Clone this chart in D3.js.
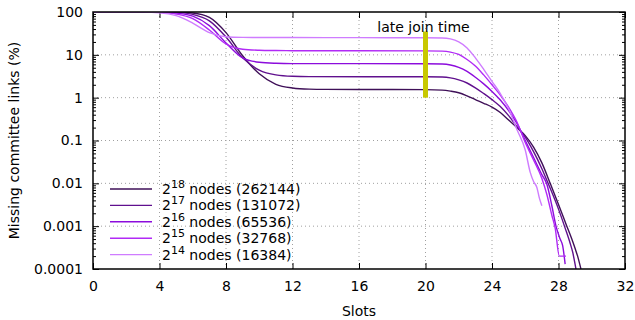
<!DOCTYPE html>
<html>
<head>
<meta charset="utf-8">
<script src="https://cdn.jsdelivr.net/npm/d3@7"></script>
<style>
  body { margin: 0; background: #fff; }
  text { font-family: "DejaVu Sans", sans-serif; }
</style>
</head>
<body>
<div id="chart"></div>
<script>
// series labels (exponent, node count) in legend order
var seriesExp = [18, 17, 16, 15, 14]
var seriesNodes = ["262144", "131072", "65536", "32768", "16384"]
var seriesColors = ["#3f1058", "#60108e", "#8c0cdc", "#b12af6", "#cf7cff"]

// [slot, missing committee links %]
var n18 = [[0,100],[4,100],[5,99.5],[6,95],[7,75],[8,33],[9,9.5],[10,3.6],[11,2.05],[12,1.68],[13,1.58],[14,1.56],[17,1.55],[20,1.54],
  [21,1.5],[21.5,1.42],[22,1.3],[22.5,1.1],[23,0.9],[23.5,0.74],[24,0.6],[24.5,0.45],[25,0.3],[25.5,0.2],[26,0.13],[26.5,0.07],
  [27,0.03],[27.5,0.01],[28,0.0032],[28.5,0.001],[28.8,0.0005],[29,0.0003],[29.15,0.0002],[29.35,0.0001]]
var n17 = [[0,100],[4,100],[4.5,99.5],[5,98],[6,88],[7,62],[8,26],[9,8.5],[10,4.4],[11,3.4],[12,3.15],[13,3.1],[20,3.07],
  [21,3.03],[21.5,2.9],[22,2.6],[22.5,2.2],[23,1.7],[23.5,1.25],[24,0.9],[24.5,0.62],[25,0.38],[25.5,0.21],[26,0.12],[26.5,0.055],
  [27,0.022],[27.4,0.0095],[28,0.0025],[28.4,0.0009],[28.7,0.0004],[28.85,0.00025],[29.05,0.0001]]
var n16 = [[0,100],[3.5,100],[4,99],[5,94],[6,80],[7,48],[8,19],[9,8.5],[10,6.7],[11,6.35],[12,6.25],[20,6.2],
  [21,6.1],[21.5,5.8],[22,5.1],[22.5,4.1],[23,3],[23.5,2.1],[24,1.4],[24.5,0.88],[25,0.5],[25.5,0.25],[26,0.1],[26.5,0.04],
  [27,0.016],[27.3,0.0095],[27.6,0.003],[27.85,0.001],[28.1,0.0005],[28.25,0.00035],[28.4,0.00013]]
var n15 = [[0,100],[3,99.8],[4,98],[5,90],[6,70],[7,38],[8,18],[9,13.5],[10,12.8],[11,12.6],[12,12.5],[20,12.4],
  [21,12.2],[21.5,11.6],[22,10.2],[22.5,7.8],[23,5.5],[23.5,3.4],[24,2],[24.5,1.15],[25,0.6],[25.5,0.27],[26,0.09],[26.5,0.035],
  [27,0.013],[27.3,0.0055],[27.6,0.0018],[27.8,0.0009],[28.05,0.0002],[28.45,0.0002]]
var n14 = [[0,100],[2,100],[3,99.5],[4,96],[5,82],[6,55],[7,33],[8,26.5],[9,25.6],[10,25.4],[12,25.3],[16,25.2],[20,25],
  [21,24.7],[21.5,23.5],[22,20],[22.5,14.5],[23,8.5],[23.5,4.6],[24,2.4],[24.5,1.25],[25,0.55],[25.5,0.18],[26,0.06],
  [26.3,0.018],[26.5,0.011],[26.7,0.008],[26.85,0.0045],[27,0.003]]
var seriesData = [n18, n17, n16, n15, n14]

// late join marker
var lateJoinSlot = 20
var lateJoinRange = [1, 35]

// axes
var xTicks = [0, 4, 8, 12, 16, 20, 24, 28, 32]
var yTicks = [0.0001, 0.001, 0.01, 0.1, 1, 10, 100]
var yTickLabels = ["0.0001", "0.001", "0.01", "0.1", "1", "10", "100"]

var margin = {top: 12, right: 10, bottom: 51, left: 93},
    width = 635 - margin.left - margin.right,
    height = 320 - margin.top - margin.bottom

var svg = d3.select("#chart")
    .append("svg")
    .attr("width", 635)
    .attr("height", 320)
    .append("g")
    .attr("transform", "translate(" + margin.left + "," + margin.top + ")")

var x = d3.scaleLinear().domain([0, 32]).range([0, width])
var y = d3.scaleLog().domain([0.0001, 100]).range([height, 0])

// dotted grid
svg.append("g").selectAll("line")
    .data(xTicks.slice(1, -1))
    .enter().append("line")
    .attr("x1", d => x(d)).attr("x2", d => x(d))
    .attr("y1", 0).attr("y2", height)
    .attr("stroke", "#a0a0a0").attr("stroke-dasharray", "1,3")
svg.append("g").selectAll("line")
    .data(yTicks.slice(1, -1))
    .enter().append("line")
    .attr("x1", 0).attr("x2", width)
    .attr("y1", d => y(d)).attr("y2", d => y(d))
    .attr("stroke", "#a0a0a0").attr("stroke-dasharray", "1,3")

// minor log ticks
var minor = []
yTicks.slice(0, -1).forEach(function (d) {
    for (var k = 2; k < 10; k++) minor.push(d * k)
})

function styleAxis(g) {
    g.select(".domain").remove()
    g.selectAll("line").attr("stroke", "#000")
    g.selectAll("text").attr("font-size", 14).attr("fill", "#000").attr("font-family", "DejaVu Sans, sans-serif")
}

svg.append("g")
    .attr("transform", "translate(0," + height + ")")
    .call(d3.axisBottom(x).tickValues(xTicks).tickSize(-6).tickPadding(12))
    .call(styleAxis)
svg.append("g")
    .call(d3.axisTop(x).tickValues(xTicks).tickSize(-6).tickFormat(""))
    .call(styleAxis)
svg.append("g")
    .call(d3.axisLeft(y).tickValues(yTicks).tickFormat((d, i) => yTickLabels[i]).tickSize(-6).tickPadding(10))
    .call(styleAxis)
svg.append("g")
    .attr("transform", "translate(" + width + ",0)")
    .call(d3.axisRight(y).tickValues(yTicks).tickSize(-6).tickFormat(""))
    .call(styleAxis)
svg.append("g")
    .call(d3.axisLeft(y).tickValues(minor).tickSize(-3).tickFormat(""))
    .call(styleAxis)
svg.append("g")
    .attr("transform", "translate(" + width + ",0)")
    .call(d3.axisRight(y).tickValues(minor).tickSize(-3).tickFormat(""))
    .call(styleAxis)

// clip for the curves
svg.append("clipPath").attr("id", "plotclip")
    .append("rect").attr("width", width).attr("height", height)

var line = d3.line()
    .x(d => x(d[0]))
    .y(d => y(d[1]))
    .curve(d3.curveMonotoneX)

svg.append("g").attr("clip-path", "url(#plotclip)")
    .selectAll("path")
    .data(seriesData)
    .enter().append("path")
    .attr("d", line)
    .attr("fill", "none")
    .attr("stroke", (d, i) => seriesColors[i])
    .attr("stroke-width", 1.4)

// late join marker
svg.append("line")
    .attr("x1", x(lateJoinSlot)).attr("x2", x(lateJoinSlot))
    .attr("y1", y(lateJoinRange[0])).attr("y2", y(lateJoinRange[1]))
    .attr("stroke", "#c8c800").attr("stroke-width", 5)
svg.append("text")
    .attr("x", x(lateJoinSlot) - 2)
    .attr("y", 20)
    .attr("text-anchor", "middle")
    .attr("font-size", 14)
    .text("late join time")

// legend
var legend = svg.append("g").attr("transform", "translate(17,177)")
seriesExp.forEach(function (e, i) {
    var row = legend.append("g").attr("transform", "translate(0," + (i * 16.4) + ")")
    row.append("line")
        .attr("x1", 0).attr("x2", 42)
        .attr("stroke", seriesColors[i]).attr("stroke-width", 1.4)
    var t = row.append("text").attr("x", 52).attr("y", 5).attr("font-size", 14)
    t.append("tspan").text("2")
    t.append("tspan").attr("font-size", 11).attr("dy", -6).text(e)
    t.append("tspan").attr("dy", 6).text(" nodes (" + seriesNodes[i] + ")")
})

// frame
svg.append("rect")
    .attr("width", width).attr("height", height)
    .attr("fill", "none").attr("stroke", "#000").attr("stroke-width", 1.5)

// axis titles
svg.append("text")
    .attr("x", width / 2).attr("y", height + 47)
    .attr("text-anchor", "middle").attr("font-size", 14)
    .text("Slots")
svg.append("text")
    .attr("transform", "translate(-74," + (height / 2) + ") rotate(-90)")
    .attr("text-anchor", "middle").attr("font-size", 14)
    .text("Missing committee links (%)")
</script>
</body>
</html>
